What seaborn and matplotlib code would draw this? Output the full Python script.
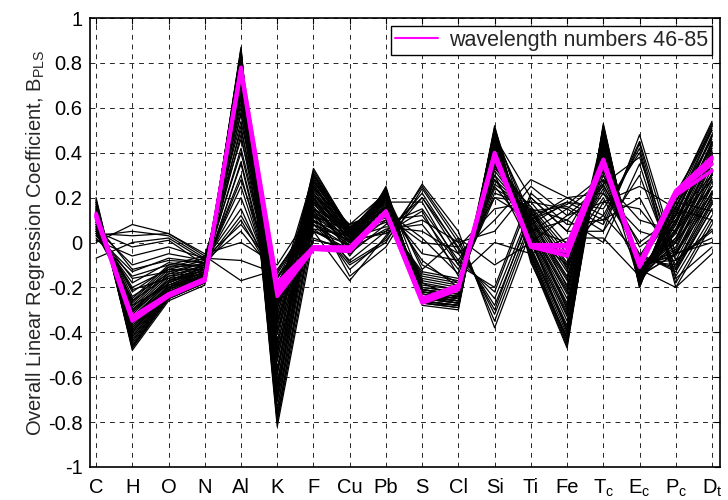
import numpy as np
import pandas as pd
import matplotlib
matplotlib.use('Agg')
import matplotlib.pyplot as plt
import seaborn as sns
from matplotlib.lines import Line2D

# elementos / descriptores en el eje x
elementos = ['C', 'H', 'O', 'N', 'Al', 'K', 'F', 'Cu', 'Pb', 'S', 'Cl', 'Si', 'Ti', 'Fe',
             'T$_c$', 'E$_c$', 'P$_c$', 'D$_t$']

# coeficientes B_PLS - grupo denso (negro)
negro_denso = [
    [0.20, -0.48, -0.26, -0.19, 0.87, -0.82, 0.02, -0.04, 0.25, -0.28, -0.30, 0.52, -0.08, -0.47, 0.53, -0.20, 0.20, 0.54],
    [0.19, -0.47, -0.25, -0.18, 0.86, -0.80, 0.05, -0.03, 0.24, -0.27, -0.29, 0.51, -0.06, -0.45, 0.52, -0.19, 0.18, 0.52],
    [0.18, -0.46, -0.25, -0.18, 0.85, -0.77, 0.08, -0.02, 0.24, -0.27, -0.29, 0.50, -0.05, -0.43, 0.51, -0.19, 0.16, 0.51],
    [0.18, -0.45, -0.24, -0.17, 0.84, -0.74, 0.10, -0.01, 0.23, -0.26, -0.28, 0.49, -0.04, -0.41, 0.50, -0.18, 0.15, 0.50],
    [0.17, -0.44, -0.24, -0.17, 0.83, -0.71, 0.13, 0.00, 0.23, -0.26, -0.28, 0.48, -0.03, -0.39, 0.49, -0.18, 0.13, 0.48],
    [0.16, -0.43, -0.23, -0.16, 0.82, -0.68, 0.15, 0.01, 0.22, -0.25, -0.27, 0.47, -0.02, -0.37, 0.48, -0.17, 0.12, 0.47],
    [0.16, -0.42, -0.23, -0.16, 0.81, -0.65, 0.17, 0.02, 0.22, -0.25, -0.27, 0.46, 0.00, -0.35, 0.47, -0.17, 0.10, 0.45],
    [0.15, -0.41, -0.22, -0.15, 0.80, -0.62, 0.19, 0.02, 0.21, -0.24, -0.26, 0.45, 0.01, -0.33, 0.46, -0.16, 0.09, 0.44],
    [0.14, -0.40, -0.22, -0.15, 0.79, -0.59, 0.21, 0.03, 0.21, -0.24, -0.26, 0.44, 0.02, -0.31, 0.45, -0.16, 0.08, 0.42],
    [0.14, -0.39, -0.21, -0.14, 0.78, -0.56, 0.23, 0.04, 0.20, -0.23, -0.25, 0.43, 0.03, -0.29, 0.44, -0.15, 0.06, 0.41],
    [0.13, -0.38, -0.21, -0.14, 0.77, -0.53, 0.25, 0.04, 0.20, -0.23, -0.25, 0.42, 0.04, -0.27, 0.43, -0.15, 0.05, 0.39],
    [0.12, -0.37, -0.20, -0.13, 0.76, -0.50, 0.27, 0.05, 0.19, -0.22, -0.24, 0.41, 0.05, -0.25, 0.42, -0.14, 0.04, 0.38],
    [0.12, -0.36, -0.20, -0.13, 0.74, -0.47, 0.29, 0.05, 0.19, -0.22, -0.24, 0.40, 0.06, -0.23, 0.41, -0.14, 0.02, 0.36],
    [0.11, -0.35, -0.19, -0.12, 0.72, -0.44, 0.31, 0.06, 0.18, -0.21, -0.23, 0.39, 0.07, -0.21, 0.40, -0.13, 0.01, 0.35],
    [0.10, -0.34, -0.18, -0.12, 0.70, -0.41, 0.33, 0.06, 0.18, -0.21, -0.23, 0.38, 0.08, -0.19, 0.39, -0.13, 0.00, 0.33],
    [0.10, -0.33, -0.18, -0.11, 0.68, -0.38, 0.30, 0.07, 0.17, -0.20, -0.22, 0.36, 0.09, -0.17, 0.38, -0.12, -0.02, 0.31],
    [0.09, -0.32, -0.17, -0.11, 0.66, -0.35, 0.27, 0.07, 0.16, -0.20, -0.22, 0.34, 0.10, -0.15, 0.36, -0.12, -0.03, 0.29],
    [0.08, -0.31, -0.16, -0.10, 0.64, -0.32, 0.24, 0.08, 0.15, -0.19, -0.21, 0.32, 0.11, -0.13, 0.34, -0.11, -0.05, 0.27],
    [0.08, -0.30, -0.15, -0.10, 0.62, -0.29, 0.21, 0.08, 0.14, -0.18, -0.21, 0.30, 0.12, -0.11, 0.32, -0.10, -0.06, 0.25],
    [0.07, -0.29, -0.14, -0.09, 0.60, -0.26, 0.18, 0.07, 0.13, -0.17, -0.20, 0.28, 0.13, -0.09, 0.30, -0.09, -0.08, 0.23],
    [0.06, -0.28, -0.13, -0.09, 0.57, -0.23, 0.15, 0.06, 0.12, -0.16, -0.19, 0.26, 0.14, -0.07, 0.28, -0.08, -0.10, 0.21],
    [0.05, -0.27, -0.12, -0.08, 0.54, -0.20, 0.12, 0.05, 0.11, -0.15, -0.18, 0.24, 0.15, -0.05, 0.26, -0.07, -0.11, 0.19],
    [0.05, -0.26, -0.11, -0.07, 0.50, -0.18, 0.09, 0.04, 0.10, -0.14, -0.17, 0.22, 0.16, -0.03, 0.24, -0.06, -0.12, 0.17],
    [0.04, -0.25, -0.10, -0.06, 0.46, -0.16, 0.06, 0.03, 0.09, -0.13, -0.16, 0.20, 0.18, -0.01, 0.22, -0.05, -0.13, 0.15],
    [0.19, -0.46, -0.24, -0.17, 0.86, -0.79, 0.12, 0.00, 0.24, -0.26, -0.28, 0.51, 0.02, -0.40, 0.52, -0.18, 0.05, 0.30],
    [0.17, -0.44, -0.23, -0.16, 0.84, -0.75, 0.22, 0.03, 0.22, -0.25, -0.27, 0.49, 0.08, -0.30, 0.50, -0.16, 0.00, 0.25],
    [0.16, -0.42, -0.22, -0.15, 0.83, -0.70, 0.28, 0.05, 0.23, -0.24, -0.26, 0.47, 0.12, -0.20, 0.49, -0.15, -0.05, 0.20],
    [0.15, -0.40, -0.21, -0.15, 0.82, -0.64, 0.30, 0.06, 0.21, -0.23, -0.25, 0.46, -0.05, -0.44, 0.46, -0.14, 0.12, 0.48],
    [0.14, -0.38, -0.20, -0.14, 0.81, -0.58, 0.26, 0.04, 0.20, -0.22, -0.24, 0.44, -0.03, -0.38, 0.44, -0.17, 0.18, 0.46],
    [0.13, -0.36, -0.19, -0.13, 0.80, -0.52, 0.20, 0.03, 0.19, -0.21, -0.23, 0.43, 0.00, -0.32, 0.43, -0.13, 0.10, 0.40],
    [0.12, -0.35, -0.21, -0.14, 0.79, -0.45, 0.14, 0.01, 0.18, -0.24, -0.27, 0.45, 0.04, -0.28, 0.47, -0.16, 0.14, 0.43],
    [0.11, -0.33, -0.20, -0.13, 0.77, -0.40, 0.10, 0.00, 0.17, -0.23, -0.26, 0.42, 0.06, -0.22, 0.45, -0.15, 0.06, 0.36],
    [0.10, -0.31, -0.18, -0.12, 0.75, -0.34, 0.05, -0.01, 0.16, -0.22, -0.25, 0.41, 0.10, -0.16, 0.42, -0.12, 0.02, 0.28],
    [0.09, -0.30, -0.17, -0.11, 0.73, -0.28, 0.01, -0.02, 0.15, -0.21, -0.24, 0.38, 0.14, -0.10, 0.40, -0.11, -0.04, 0.22],
    [0.18, -0.47, -0.25, -0.18, 0.85, -0.66, 0.18, 0.02, 0.24, -0.27, -0.28, 0.50, -0.07, -0.46, 0.51, -0.19, 0.20, 0.53],
    [0.14, -0.39, -0.22, -0.15, 0.80, -0.48, 0.08, 0.01, 0.20, -0.24, -0.26, 0.47, 0.20, 0.05, 0.33, -0.10, 0.16, 0.42],
]

# lineas dispersas (negro)
negro_disperso = [
    [0.00, 0.08, 0.04, -0.06, -0.17, -0.12, 0.10, -0.10, 0.00, 0.26, 0.05, -0.38, 0.05, 0.15, 0.05, 0.48, -0.05, 0.00],
    [0.03, 0.05, 0.03, -0.07, -0.08, -0.14, 0.12, -0.12, 0.02, 0.25, 0.02, -0.35, 0.08, 0.18, 0.10, 0.45, -0.08, 0.05],
    [0.04, 0.03, 0.04, -0.05, 0.00, -0.10, 0.15, -0.15, -0.02, 0.24, 0.00, -0.32, 0.10, 0.20, 0.12, 0.42, -0.20, 0.08],
    [-0.07, 0.00, 0.02, -0.08, 0.05, -0.15, 0.05, -0.17, 0.03, 0.22, -0.03, -0.28, 0.12, 0.18, 0.15, 0.40, -0.18, 0.10],
    [0.05, -0.02, 0.01, -0.10, 0.10, -0.18, 0.08, -0.08, 0.05, 0.20, -0.05, -0.25, 0.15, 0.10, 0.00, 0.35, -0.15, 0.12],
    [0.06, -0.10, -0.05, -0.08, 0.15, -0.20, 0.18, -0.05, 0.08, 0.15, -0.08, -0.22, 0.20, 0.05, 0.05, 0.30, -0.12, 0.15],
    [0.08, -0.12, -0.08, -0.09, 0.20, -0.22, 0.20, -0.02, 0.10, 0.12, -0.10, -0.20, 0.22, 0.08, 0.10, 0.20, -0.10, 0.18],
    [0.02, -0.15, -0.10, -0.10, 0.25, -0.25, 0.22, 0.00, 0.05, 0.10, 0.00, 0.05, 0.25, 0.12, 0.18, 0.15, -0.05, 0.20],
    [0.04, -0.18, -0.09, -0.11, 0.30, -0.28, 0.25, 0.02, 0.07, 0.05, -0.05, 0.10, 0.28, 0.20, 0.22, 0.05, 0.00, 0.22],
    [0.06, -0.20, -0.12, -0.12, 0.35, -0.30, 0.26, 0.03, 0.12, 0.00, -0.02, 0.15, 0.18, 0.15, 0.28, 0.10, 0.05, 0.25],
    [0.07, -0.22, -0.11, -0.10, 0.40, -0.26, 0.28, 0.05, 0.15, -0.05, -0.08, 0.20, 0.10, 0.17, 0.30, -0.02, 0.10, 0.28],
    [0.09, -0.24, -0.14, -0.12, 0.42, -0.24, 0.30, 0.04, 0.18, 0.18, -0.10, 0.25, 0.05, 0.10, 0.25, 0.00, 0.12, 0.30],
    [0.05, -0.16, -0.13, -0.11, 0.28, -0.19, 0.16, -0.03, 0.06, 0.08, -0.12, 0.30, -0.02, -0.05, 0.20, -0.12, -0.20, -0.05],
    [0.03, -0.13, -0.07, -0.09, 0.12, -0.16, 0.14, 0.01, 0.04, 0.14, -0.15, 0.00, -0.05, 0.02, 0.02, -0.15, -0.05, 0.02],
    [0.10, -0.26, -0.15, -0.13, 0.48, -0.33, 0.32, 0.06, 0.20, -0.10, -0.18, 0.35, 0.03, -0.10, 0.18, 0.25, 0.15, 0.10],
    [0.07, -0.21, -0.16, -0.14, 0.36, -0.27, 0.11, 0.08, 0.22, -0.12, 0.02, -0.10, 0.00, 0.12, 0.26, 0.38, -0.08, 0.06],
    [0.11, -0.28, -0.19, -0.15, 0.52, -0.36, 0.20, -0.06, 0.14, 0.02, -0.14, 0.28, 0.06, 0.00, 0.12, -0.06, 0.18, 0.14],
    [0.13, -0.30, -0.17, -0.14, 0.58, -0.40, 0.24, 0.00, 0.16, -0.08, -0.20, 0.33, 0.16, -0.12, 0.35, -0.18, 0.08, 0.45],
    [0.15, -0.36, -0.20, -0.15, 0.66, -0.48, 0.06, -0.05, 0.23, -0.18, -0.25, 0.50, -0.09, -0.42, 0.50, -0.20, 0.22, 0.50],
    [0.01, -0.06, -0.02, -0.07, 0.08, -0.13, 0.13, -0.09, 0.01, 0.20, -0.02, -0.30, 0.14, 0.16, 0.08, 0.44, -0.16, -0.02],
]

# longitudes de onda 46-85 (magenta)
magenta = [
    [0.12, -0.33, -0.23, -0.17, 0.78, -0.20, -0.02, -0.03, 0.14, -0.25, -0.20, 0.40, -0.01, -0.02, 0.37, -0.09, 0.23, 0.37],
    [0.12, -0.34, -0.23, -0.17, 0.77, -0.22, -0.03, -0.03, 0.13, -0.26, -0.20, 0.39, -0.02, -0.04, 0.36, -0.10, 0.22, 0.35],
    [0.11, -0.35, -0.24, -0.17, 0.76, -0.24, -0.03, -0.04, 0.13, -0.27, -0.21, 0.38, -0.02, -0.06, 0.35, -0.11, 0.21, 0.32],
    [0.13, -0.34, -0.23, -0.16, 0.78, -0.18, -0.02, -0.02, 0.14, -0.25, -0.19, 0.40, -0.01, -0.01, 0.37, -0.09, 0.23, 0.38],
]

etiqueta = 'wavelength numbers 46-85'
yticks = [-1, -0.8, -0.6, -0.4, -0.2, 0, 0.2, 0.4, 0.6, 0.8, 1]


def a_largo(filas, prefijo):
    regs = []
    for i, fila in enumerate(filas):
        for j, v in enumerate(fila):
            regs.append({'pos': j, 'coef': v, 'linea': f'{prefijo}{i}'})
    return pd.DataFrame(regs)


df_negro = pd.concat([a_largo(negro_denso, 'd'), a_largo(negro_disperso, 's')], ignore_index=True)
df_mag = a_largo(magenta, 'm')

sns.set_theme(style='white')
plt.rcParams['font.family'] = ['Liberation Sans', 'DejaVu Sans']
plt.rcParams['mathtext.fontset'] = 'custom'
plt.rcParams['mathtext.rm'] = 'Liberation Sans'
plt.rcParams['mathtext.it'] = 'Liberation Sans'
plt.rcParams['axes.unicode_minus'] = False

fig = plt.figure(figsize=(7.28, 5.0), dpi=100)
ax = fig.add_axes([0.123, 0.066, 0.866, 0.898])

sns.lineplot(data=df_negro, x='pos', y='coef', units='linea', estimator=None,
             color='black', linewidth=0.9, sort=False, ax=ax, legend=False)
sns.lineplot(data=df_mag, x='pos', y='coef', units='linea', estimator=None,
             color='#ff00ff', linewidth=2.6, sort=False, ax=ax, legend=False)

ax.set_xlim(-0.18, 17.22)
ax.set_ylim(-1, 1)
ax.set_xticks(range(len(elementos)))
ax.set_xticklabels(elementos, fontsize=14.5)
ax.set_yticks(yticks)
ax.set_yticklabels([f'{v:g}' for v in yticks], fontsize=14.5)
ax.tick_params(direction='in', length=4, width=0.8, top=True, right=True, colors='black')
ax.tick_params(axis='x', pad=8)
ax.tick_params(axis='y', pad=5)
ax.grid(True, color='black', linestyle=(0, (5, 5)), linewidth=0.7, alpha=0.85)
ax.set_xlabel('')
ax.set_ylabel('Overall Linear Regression Coefficient, B$_{PLS}$', fontsize=14.5, labelpad=1)
for s in ax.spines.values():
    s.set_color('black')
    s.set_linewidth(1.2)

# leyenda
h = Line2D([], [], color='#ff00ff', linewidth=1.5)
leg = ax.legend([h], [etiqueta], loc='upper right', fontsize=15.5, frameon=True, fancybox=False,
                edgecolor='black', framealpha=1, borderaxespad=0.35, handlelength=2.0,
                handletextpad=0.5, borderpad=0.2, shadow=False)
leg.get_frame().set_linewidth(1.0)

fig.savefig('out.png', dpi=100)
